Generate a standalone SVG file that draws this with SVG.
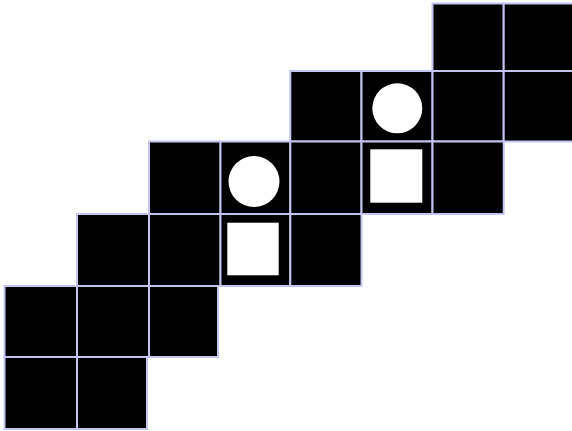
<svg xmlns="http://www.w3.org/2000/svg" width="572" height="431" viewBox="0 0 572 431">
<style>
.c{fill:#000;stroke:#c4c4f0;stroke-width:2}
.w{fill:#fff}
</style>
<rect width="572" height="431" fill="#fff"/>
<g id="row0">
<rect class="c" x="432.5" y="3.5" width="71.2" height="67.5"/>
<rect class="c" x="503.7" y="3.5" width="71" height="67.5"/>
</g>
<g id="row1">
<rect class="c" x="290.3" y="71" width="71.2" height="70.5"/>
<rect class="c" x="361.5" y="71" width="71" height="70.5"/>
<rect class="c" x="432.5" y="71" width="71.2" height="70.5"/>
<rect class="c" x="503.7" y="71" width="71" height="70.5"/>
</g>
<g id="row2">
<rect class="c" x="149" y="141.5" width="71.5" height="72.5"/>
<rect class="c" x="220.5" y="141.5" width="69.8" height="72.5"/>
<rect class="c" x="290.3" y="141.5" width="71.2" height="72.5"/>
<rect class="c" x="361.5" y="141.5" width="71" height="72.5"/>
<rect class="c" x="432.5" y="141.5" width="71.2" height="72.5"/>
</g>
<g id="row3">
<rect class="c" x="77" y="214" width="72" height="72"/>
<rect class="c" x="149" y="214" width="71.5" height="72"/>
<rect class="c" x="220.5" y="214" width="69.8" height="72"/>
<rect class="c" x="290.3" y="214" width="71.2" height="72"/>
</g>
<g id="row4">
<rect class="c" x="4.5" y="286" width="72.5" height="71"/>
<rect class="c" x="77" y="286" width="72" height="71"/>
<rect class="c" x="149" y="286" width="69" height="71"/>
</g>
<g id="row5">
<rect class="c" x="4.5" y="357" width="72.5" height="72"/>
<rect class="c" x="77" y="357" width="70" height="72"/>
</g>
<g id="pieces">
<circle id="circle1" class="w" cx="254" cy="181.5" r="25.5"/>
<rect id="square1" class="w" x="227.3" y="222.7" width="51.4" height="52.6"/>
<circle id="circle2" class="w" cx="397.3" cy="108.3" r="25"/>
<rect id="square2" class="w" x="370.3" y="149.3" width="52" height="53.4"/>
</g>
</svg>
